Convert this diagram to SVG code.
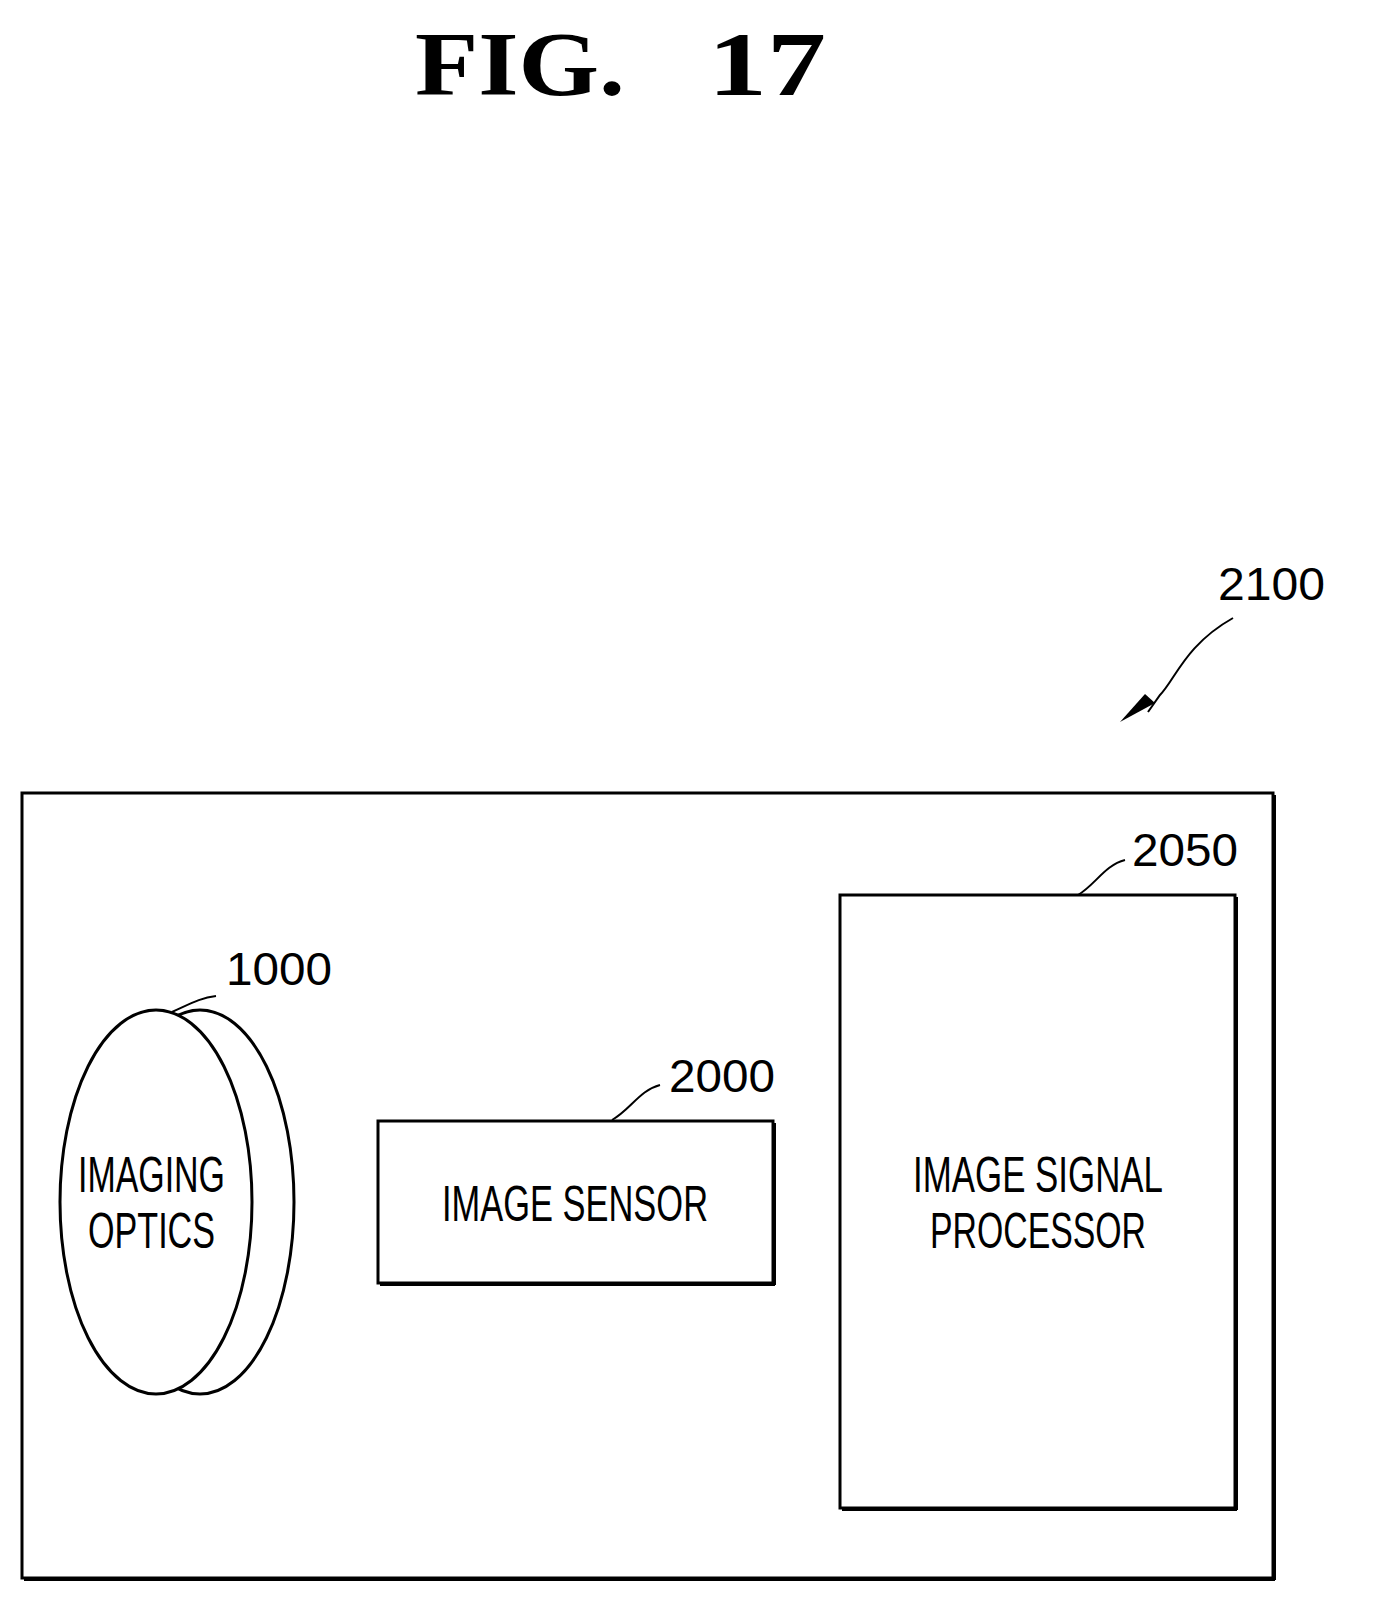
<svg xmlns="http://www.w3.org/2000/svg" width="1373" height="1602" viewBox="0 0 1373 1602">
<style>
.ln{fill:none;stroke:#000;stroke-width:2}
.bx{fill:#fff;stroke:#000;stroke-width:3}
.t{font-family:"Liberation Sans",Arial,sans-serif;font-size:50px;fill:#000}
.n{font-family:"Liberation Sans",Arial,sans-serif;font-size:46px;fill:#000}
.h{font-family:"Liberation Serif",serif;font-weight:bold;font-size:90px;fill:#000}
</style>
<rect width="1373" height="1602" fill="#fff"/>
<text x="415" y="95" textLength="210" lengthAdjust="spacingAndGlyphs" class="h">FIG.</text>
<text x="708" y="95" textLength="118" lengthAdjust="spacingAndGlyphs" class="h">17</text>
<g id="n2100">
<rect x="22" y="793" width="1251" height="785" class="bx"/>
<line x1="1275" y1="795" x2="1275" y2="1580" stroke="#000" stroke-width="2"/>
<line x1="24" y1="1580" x2="1275" y2="1580" stroke="#000" stroke-width="2"/>
<text x="1218" y="600" textLength="107" lengthAdjust="spacingAndGlyphs" class="n">2100</text>
</g>
<g id="n1000">
<ellipse cx="200" cy="1202" rx="94" ry="192" class="bx"/>
<ellipse cx="156" cy="1202" rx="96" ry="192" class="bx"/>
<text x="78" y="1192" textLength="147" lengthAdjust="spacingAndGlyphs" class="t">IMAGING</text>
<text x="88" y="1248" textLength="127" lengthAdjust="spacingAndGlyphs" class="t">OPTICS</text>
<text x="226" y="985" textLength="106" lengthAdjust="spacingAndGlyphs" class="n">1000</text>
</g>
<g id="n2000">
<rect x="378" y="1121" width="395" height="162" class="bx"/>
<line x1="775" y1="1123" x2="775" y2="1285" stroke="#000" stroke-width="2"/>
<line x1="380" y1="1285" x2="775" y2="1285" stroke="#000" stroke-width="2"/>
<text x="442" y="1221" textLength="266" lengthAdjust="spacingAndGlyphs" class="t">IMAGE SENSOR</text>
<text x="669" y="1092" textLength="106" lengthAdjust="spacingAndGlyphs" class="n">2000</text>
</g>
<g id="n2050">
<rect x="840" y="895" width="395" height="613" class="bx"/>
<line x1="1237" y1="897" x2="1237" y2="1510" stroke="#000" stroke-width="2"/>
<line x1="842" y1="1510" x2="1237" y2="1510" stroke="#000" stroke-width="2"/>
<text x="913" y="1192" textLength="250" lengthAdjust="spacingAndGlyphs" class="t">IMAGE SIGNAL</text>
<text x="930" y="1248" textLength="216" lengthAdjust="spacingAndGlyphs" class="t">PROCESSOR</text>
<text x="1132" y="866" textLength="106" lengthAdjust="spacingAndGlyphs" class="n">2050</text>
</g>
<g id="connectors">
<path class="ln" d="M1233,618 C1185,645 1175,680 1160,695 L1148,712"/>
<path d="M1120,722 L1145,694 L1155,703 z" fill="#000"/>
<path class="ln" d="M216,996 C200,998 190,1004 172,1012"/>
<path class="ln" d="M660,1085 C640,1090 630,1110 612,1120"/>
<path class="ln" d="M1125,860 C1105,865 1095,885 1078,895"/>
</g>
</svg>
